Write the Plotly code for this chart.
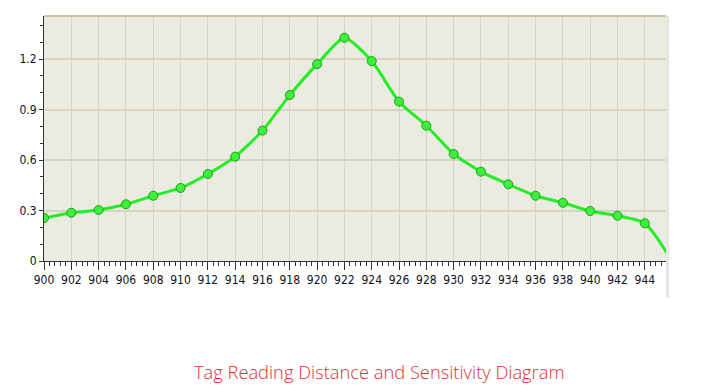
import plotly.graph_objects as go

freq = [900, 902, 904, 906, 908, 910, 912, 914, 916, 918, 920, 922, 924,
        926, 928, 930, 932, 934, 936, 938, 940, 942, 944, 946]
sens = [0.255, 0.287, 0.303, 0.337, 0.388, 0.434, 0.517, 0.62, 0.775, 0.986,
        1.17, 1.327, 1.188, 0.947, 0.804, 0.636, 0.531, 0.456, 0.388, 0.346,
        0.297, 0.269, 0.224, 0.0]
xticks = list(range(900, 946, 2))
yticks = [0, 0.3, 0.6, 0.9, 1.2]
ytick_text = ["0", "0.3", "0.6", "0.9", "1.2"]
title_text = "Tag Reading Distance and Sensitivity Diagram"

fig = go.Figure()
fig.add_trace(go.Scatter(
    x=freq, y=sens, mode="lines",
    line=dict(color="#22ee22", width=3, shape="spline", smoothing=0.6),
    showlegend=False, cliponaxis=True,
))
fig.add_trace(go.Scatter(
    x=freq[:-1], y=sens[:-1], mode="markers",
    marker=dict(size=9, color="#3cf03c", line=dict(color="#1aa01a", width=1)),
    showlegend=False, cliponaxis=True,
))

tickfont = dict(family="DejaVu Sans Condensed, Liberation Sans Narrow, sans-serif",
                size=12, color="#111122")
fig.update_layout(
    width=701, height=392,
    margin=dict(l=44, r=35, t=16, b=131),
    paper_bgcolor="white", plot_bgcolor="#ecebe2",
    xaxis=dict(range=[900, 945.55], tickvals=xticks, ticktext=[str(v) for v in xticks],
               showgrid=True, gridcolor="#d5d4c2", gridwidth=1,
               ticks="outside", ticklen=8, tickcolor="#333333", tickwidth=1,
               minor=dict(dtick=0.4, ticks="outside", ticklen=4, tickcolor="#333333", showgrid=False),
               showline=True, linecolor="#333333", linewidth=1, mirror=False,
               zeroline=False, tickfont=tickfont, fixedrange=True),
    yaxis=dict(range=[0, 1.456], tickvals=yticks, ticktext=ytick_text,
               showgrid=True, gridcolor="#d5d4c2", gridwidth=2,
               ticks="outside", ticklen=4, tickcolor="#333333",
               minor=dict(dtick=0.1, ticks="outside", ticklen=3, tickcolor="#333333", showgrid=False),
               showline=True, linecolor="#333333", linewidth=1,
               zeroline=False, tickfont=tickfont, fixedrange=True),
    shapes=[
        dict(type="line", xref="paper", yref="paper", x0=0, x1=1, y0=1, y1=1,
             line=dict(color="#c9c8a8", width=2)),
        dict(type="rect", xref="paper", yref="paper", x0=1, x1=1.005, y0=-0.15, y1=1.0,
             fillcolor="#e6e6e6", line=dict(width=0)),
    ],
    annotations=[dict(text=title_text, xref="paper", yref="paper", x=0.539, y=-0.45,
                      showarrow=False, xanchor="center", yanchor="middle",
                      font=dict(family="Open Sans, sans-serif", size=18.3, color="#e0303a",
                                weight=300))],
)
fig.write_html("out.html")
